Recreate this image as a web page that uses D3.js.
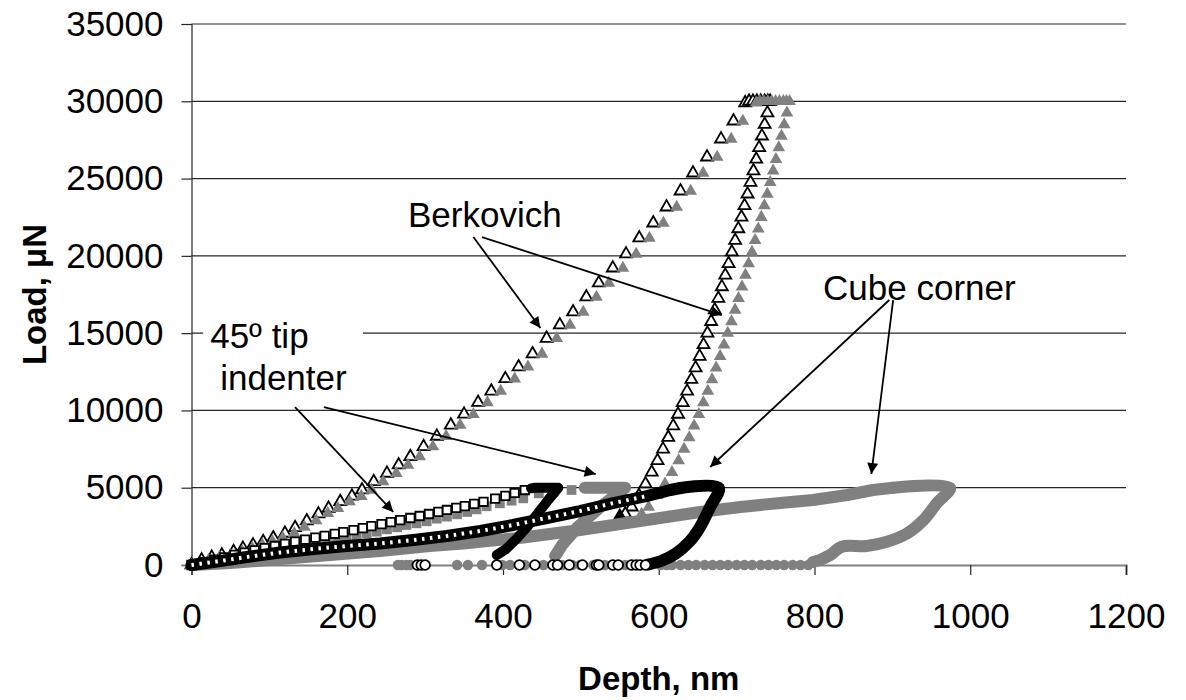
<!DOCTYPE html>
<html>
<head>
<meta charset="utf-8">
<script src="https://cdn.jsdelivr.net/npm/d3@7"></script>
<style>
  body { margin: 0; background: #fff; }
  text { font-family: "Liberation Sans", Arial, sans-serif; }
</style>
</head>
<body>
<svg id="chart" width="1186" height="700"></svg>
<script>
const xTicks = [0, 200, 400, 600, 800, 1000, 1200];
const yTicks = [0, 5000, 10000, 15000, 20000, 25000, 30000, 35000];

// Berkovich, first test (open triangles): [depth nm, load uN]
const berkLoad1 = [[0, 0], [13, 324], [26, 498], [39, 647], [54, 861], [66, 1080], [79, 1294], [92, 1508],
  [105, 1750], [120, 2051], [133, 2420], [148, 2850], [163, 3300], [176, 3668], [191, 4096], [206, 4450],
  [219, 4852], [234, 5390], [251, 5933], [266, 6470], [281, 7007], [298, 7654], [315, 8327], [333, 9050],
  [350, 9752], [368, 10514], [385, 11251], [403, 12050], [420, 12819], [438, 13653], [456, 14665],
  [473, 15526], [490, 16367], [507, 17337], [523, 18243], [541, 19213], [558, 20119], [575, 21154],
  [593, 22124], [610, 23159], [628, 24194], [644, 25359], [662, 26394], [680, 27558], [696, 28723],
  [711, 29900]];
const berkUnload1 = [[716, 30000], [721, 30000], [726, 30000], [731, 30000], [736, 30000], [740, 30000],
  [743, 30000], [739.5, 29250], [736, 28500], [732.5, 27750], [728.9, 27000], [725.2, 26250], [721.6, 25500],
  [717.8, 24750], [714, 24000], [710.1, 23250], [706.2, 22500], [702.2, 21750], [698.1, 21000],
  [693.9, 20250], [689.7, 19500], [685.4, 18750], [681, 18000], [676.5, 17250], [671.9, 16500],
  [667.3, 15750], [662.5, 15000], [657.5, 14250], [652.5, 13500], [647.3, 12750], [641.9, 12000],
  [636.4, 11250], [630.7, 10500], [624.8, 9750], [618.6, 9000], [612.2, 8250], [605.5, 7500],
  [598.4, 6750], [591, 6000], [583, 5250], [574.5, 4500], [565.2, 3750], [557, 3300]];
const berkTail1 = [[550, 3100]];

// Berkovich, second test (grey triangles)
const berkLoad2 = [[0, 0], [22, 324], [36, 498], [50, 647], [65, 861], [78, 1080], [91, 1294], [104, 1508],
  [117, 1760], [132, 2051], [145, 2450], [160, 2880], [175, 3345], [188, 3668], [203, 4096], [218, 4450],
  [231, 4852], [246, 5390], [263, 5933], [278, 6470], [293, 7007], [310, 7654], [327, 8327], [345, 9050],
  [362, 9752], [380, 10514], [397, 11251], [415, 12050], [432, 12819], [450, 13653], [469, 14665],
  [486, 15526], [503, 16367], [520, 17337], [536, 18243], [554, 19213], [571, 20119], [588, 21154],
  [606, 22124], [623, 23159], [641, 24194], [657, 25359], [675, 26394], [693, 27558], [708, 28723],
  [725, 29900]];
const berkUnload2 = [[730, 30000], [735, 30000], [740, 30000], [745, 30000], [750, 30000], [755, 30000],
  [760, 30000], [764, 30000], [768, 30000], [764.6, 29250], [761.1, 28500], [757.6, 27750], [754.1, 27000],
  [750.5, 26250], [746.9, 25500], [743.1, 24750], [739.4, 24000], [735.6, 23250], [731.7, 22500],
  [727.8, 21750], [723.7, 21000], [719.7, 20250], [715.5, 19500], [711.3, 18750], [706.9, 18000],
  [702.5, 17250], [698, 16500], [693.4, 15750], [688.6, 15000], [683.8, 14250], [678.8, 13500],
  [673.7, 12750], [668.4, 12000], [663, 11250], [657.3, 10500], [651.5, 9750], [645.4, 9000],
  [639.1, 8250], [632.5, 7500], [625.5, 6750], [617, 6000], [608, 5250], [598, 4500], [587, 3750],
  [578, 3300]];

// 45º tip indenter, first test (open squares, dense hold/unload)
const tipLoad1 = [[0, 0], [16, 190], [29, 350], [42, 500], [55, 650], [68, 800], [81, 950], [94, 1090],
  [107, 1230], [120, 1370], [133, 1508], [146, 1640], [159, 1770], [171, 1890], [184, 2020], [195, 2130],
  [208, 2260], [220, 2390], [231, 2510], [244, 2640], [256, 2770], [268, 2900], [281, 3040], [293, 3170],
  [305, 3300], [317, 3440], [328, 3560], [340, 3690], [351, 3810], [363, 3950], [375, 4090], [390, 4290],
  [403, 4470], [415, 4660], [428, 4850]];
const tipUnload1 = [[436, 4960], [441, 5000], [471, 5000], [458, 4206], [445, 3364], [431, 2459],
  [417, 1682], [404, 1035], [392, 647]];

// 45º tip indenter, second test (grey squares)
const tipLoad2 = [[0, 0], [6, 60], [19, 200], [32, 330], [45, 460], [58, 590], [71, 710], [84, 840],
  [97, 960], [110, 1080], [122, 1186], [135, 1294], [148, 1404], [161, 1508], [174, 1618], [187, 1727],
  [199, 1831], [212, 1941], [225, 2051], [238, 2155], [251, 2310], [264, 2439], [276, 2588], [289, 2698],
  [302, 2830], [315, 3000], [328, 3130], [341, 3280], [354, 3430], [366, 3600], [379, 3800], [396, 3990],
  [411, 4162], [426, 4313], [446, 4637], [465, 4744], [488, 4852]];
const tipUnload2 = [[505, 5000], [557, 5000], [525, 3750], [496, 2460], [476, 1300], [467, 580]];

// Cube corner, first test (open circles, dense band)
const cubeLoad1 = [[0, 0], [37, 259], [71, 518], [114, 809], [157, 1035], [199, 1229], [242, 1391],
  [285, 1617], [328, 1876], [371, 2199], [413, 2588], [456, 3040], [499, 3493], [542, 4011], [585, 4464],
  [615, 4852], [628, 4981]];
const cubeUnload1 = [[628, 4981], [677, 5000], [666, 3752], [653, 2458], [639, 1488], [621, 712],
  [603, 259], [586, 32]];
const cubeZero1 = [290, 295, 300, 392, 421, 441, 464, 470, 485, 502, 520, 523, 541, 548, 565, 571, 576, 583];

// Cube corner, second test (grey circles)
const cubeLoad2 = [[0, 0], [50, 129], [114, 388], [178, 647], [242, 906], [306, 1229], [349, 1391],
  [426, 1779], [499, 2264], [576, 2846], [653, 3429], [705, 3752], [756, 4011], [798, 4205], [842, 4528],
  [875, 4852], [901, 5000]];
const cubeUnload2 = [[901, 5000], [974, 5000], [957, 3991], [940, 2911], [919, 2051], [893, 1507],
  [867, 1229], [835, 1184], [820, 647], [807, 323], [798, 194]];
const cubeZero2 = [265, 270, 276, 281, 341, 355, 373, 399, 409, 428, 452, 476, 489, 499, 516, 522, 531,
  540, 557, 566, 602, 610, 617, 628, 638, 648, 659, 669, 679, 689, 700, 710, 720, 731, 741, 751, 761,
  772, 782, 792];

// annotations: text anchor and arrows (from, to) in data units
const labels = [
  {lines: ['Berkovich'], at: [278, 21866], dx: [0]},
  {lines: ['45º tip', 'indenter'], at: [24, 14038], dx: [0, 10], box: true},
  {lines: ['Cube corner'], at: [811, 17137], dx: [0]}
];
const arrows = [
  [[362, 21218], [448, 15331]],
  [[373, 21218], [681, 16172]],
  [[133, 10221], [259, 3429]],
  [[170, 10221], [519, 5887]],
  [[896, 17143], [666, 6340]],
  [[901, 17143], [873, 5887]]
];

const grey = '#808080';
const svg = d3.select('#chart');
const x = d3.scaleLinear().domain([0, 1200]).range([191.5, 1126]);
const y = d3.scaleLinear().domain([0, 35000]).range([565, 24]);

svg.append('rect').attr('width', 1186).attr('height', 700).attr('fill', '#fff');

const defs = svg.append('defs');
defs.append('marker')
  .attr('id', 'arrowhead')
  .attr('viewBox', '0 0 10 10')
  .attr('refX', 10).attr('refY', 5)
  .attr('markerUnits', 'userSpaceOnUse')
  .attr('markerWidth', 14).attr('markerHeight', 11)
  .attr('orient', 'auto')
  .append('path')
  .attr('d', 'M0,0L10,5L0,10Z')
  .attr('fill', '#000');

// grid lines
svg.append('g')
  .selectAll('line')
  .data(yTicks.filter((t) => t > 0))
  .enter()
  .append('line')
  .attr('x1', x(0)).attr('x2', x(1200))
  .attr('y1', (d) => y(d)).attr('y2', (d) => y(d))
  .attr('stroke', '#262626')
  .attr('stroke-width', 1.2);

// axes
const yAxis = svg.append('g')
  .attr('transform', `translate(${x(0)},0)`)
  .call(d3.axisLeft(y).tickValues(yTicks).tickSize(10).tickPadding(18).tickFormat(d3.format('d')));
const xAxis = svg.append('g')
  .attr('transform', `translate(0,${y(0)})`)
  .call(d3.axisBottom(x).tickValues(xTicks).tickSize(10).tickPadding(28).tickFormat(d3.format('d')));

yAxis.select('.domain').attr('stroke', '#262626').attr('stroke-width', 1.2);
xAxis.select('.domain').attr('stroke', grey).attr('stroke-width', 2.2);
[yAxis, xAxis].forEach((a) => {
  a.selectAll('.tick line').attr('stroke', '#262626').attr('stroke-width', 1.2);
  a.selectAll('.tick text').attr('fill', '#000').style('font-size', '35px')
    .style('font-family', '"Liberation Sans", Arial, sans-serif');
});
yAxis.select('.tick line').attr('stroke', grey).attr('stroke-width', 2);

// axis titles
svg.append('text')
  .attr('x', (x(0) + x(1200)) / 2).attr('y', 690)
  .attr('text-anchor', 'middle')
  .style('font-size', '33px').style('font-weight', 'bold')
  .text('Depth, nm');
svg.append('text')
  .attr('transform', `translate(46,${(y(0) + y(35000)) / 2}) rotate(-90)`)
  .attr('text-anchor', 'middle')
  .style('font-size', '33px').style('font-weight', 'bold')
  .text('Load, μN');

const plot = svg.append('g');
const line = d3.line().x((d) => x(d[0])).y((d) => y(d[1]));
const smooth = d3.line().x((d) => x(d[0])).y((d) => y(d[1])).curve(d3.curveCatmullRom.alpha(0.5));

function band(data, color, width, gen) {
  plot.append('path')
    .datum(data)
    .attr('d', gen || line)
    .attr('fill', 'none')
    .attr('stroke', color)
    .attr('stroke-width', width)
    .attr('stroke-linejoin', 'round')
    .attr('stroke-linecap', 'round');
}

function marks(data, type, size, fill, stroke) {
  plot.append('g')
    .selectAll('path')
    .data(data)
    .enter()
    .append('path')
    .attr('d', d3.symbol(type, size))
    .attr('transform', (d) => `translate(${x(d[0])},${y(d[1])})`)
    .attr('fill', fill)
    .attr('stroke', stroke || 'none')
    .attr('stroke-width', stroke ? 1.8 : 0);
}

// Berkovich
marks(berkLoad1.concat(berkUnload1), d3.symbolTriangle, 62, '#fff', '#000');
marks(berkTail1, d3.symbolTriangle, 75, '#000', '#000');
marks(berkLoad2.concat(berkUnload2), d3.symbolTriangle, 70, grey);

// 45º tip
marks(tipLoad2, d3.symbolSquare, 95, grey);
band(tipUnload2, grey, 12);

// cube corner, second test
band(cubeLoad2, grey, 12);
band(cubeUnload2, grey, 12, smooth);
marks(cubeZero2.map((d) => [d, 0]), d3.symbolCircle, 85, grey);

// 45º tip, first test
marks(tipLoad1, d3.symbolSquare, 72, '#fff', '#000');
band(tipUnload1, '#000', 10);

// cube corner, first test
band(cubeLoad1, '#000', 12);
band(cubeUnload1, '#000', 12, smooth);
plot.append('path')
  .datum(cubeLoad1.slice(0, 15))
  .attr('d', line)
  .attr('fill', 'none')
  .attr('stroke', '#fff')
  .attr('stroke-width', 4)
  .attr('stroke-dasharray', '2.5 5.5');
marks(cubeZero1.map((d) => [d, 0]), d3.symbolCircle, 75, '#fff', '#000');

// annotations
const notes = svg.append('g');
labels.forEach((lab) => {
  const g = notes.append('g');
  const t = g.append('text')
    .attr('x', x(lab.at[0])).attr('y', y(lab.at[1]))
    .style('font-size', '35px');
  lab.lines.forEach((s, i) => {
    t.append('tspan')
      .attr('x', x(lab.at[0]) + lab.dx[i])
      .attr('dy', i === 0 ? 0 : 42)
      .text(s);
  });
  if (lab.box) {
    const b = t.node().getBBox();
    g.insert('rect', 'text')
      .attr('x', b.x - 7).attr('y', b.y - 2)
      .attr('width', b.width + 23).attr('height', b.height + 6)
      .attr('fill', '#fff');
  }
});

notes.selectAll('line.arrow')
  .data(arrows)
  .enter()
  .append('line')
  .attr('class', 'arrow')
  .attr('x1', (d) => x(d[0][0])).attr('y1', (d) => y(d[0][1]))
  .attr('x2', (d) => x(d[1][0])).attr('y2', (d) => y(d[1][1]))
  .attr('stroke', '#000')
  .attr('stroke-width', 1.8)
  .attr('marker-end', 'url(#arrowhead)');
</script>
</body>
</html>
